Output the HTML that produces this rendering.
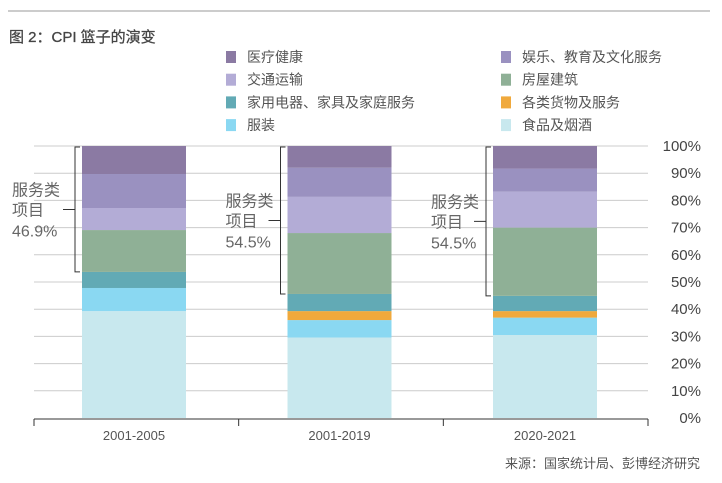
<!DOCTYPE html>
<html><head><meta charset="utf-8"><style>
body{margin:0;background:#fff;}
svg text{font-family:"Liberation Sans","Noto Sans CJK SC",sans-serif;}
</style></head><body>
<svg width="722" height="478" viewBox="0 0 722 478">
<line x1="8" y1="11" x2="710" y2="11" stroke="#999" stroke-width="1"/>
<text x="9" y="42" font-size="15" fill="#444" stroke="#444" stroke-width="0.3">图 2：CPI 篮子的演变</text>
<g id="legend"></g>
<g id="grid"></g>
<g id="bars"></g>
<g id="axis"></g>
<g id="brackets"></g>
<text x="700" y="468" font-size="13" fill="#555" text-anchor="end">来源：国家统计局、彭博经济研究</text>
</svg>
<script>
const categories=["2001-2005","2001-2019","2020-2021"];
const seriesNames=["食品及烟酒","服装","各类货物及服务","家用电器、家具及家庭服务","房屋建筑","交通运输","娱乐、教育及文化服务","医疗健康"];
const food=[39.3,29.6,30.5];
const clothing=[8.5,6.4,6.4];
const goods=[0,3.3,2.4];
const household=[5.9,6.3,5.6];
const housing=[15.4,22.4,25.1];
const transport=[8.1,13.3,13.2];
const entertainment=[12.5,10.7,8.5];
const medical=[10.3,8.0,8.3];
const serviceLabels=["46.9%","54.5%","54.5%"];
const yTicks=[0,10,20,30,40,50,60,70,80,90,100];
const colors=["#c8e8ee","#8ad8f2","#f0a93c","#62aab5","#8fb096","#b3acd6","#9a91c0","#8b7aa3"];
const series=[food,clothing,goods,household,housing,transport,entertainment,medical];
const NS="http://www.w3.org/2000/svg";
function mk(tag,attrs,parent,txt){const e=document.createElementNS(NS,tag);for(const k in attrs)e.setAttribute(k,attrs[k]);if(txt!=null)e.textContent=txt;parent.appendChild(e);return e;}
const y0=418,y1=146;
function yS(v){return y0-(y0-y1)*v/100;}
const plotL=34,plotR=648,bw=104;
function xC(i){return 134+i*205.5;}
const grid=document.getElementById('grid');
yTicks.forEach(t=>{
  if(t>0){const l=mk('line',{x1:plotL,x2:plotR,y1:yS(t),y2:yS(t),stroke:'#ccc','stroke-width':1},grid);
  
  }
  const tx=mk('text',{x:701,y:yS(t)+5,'font-size':15,fill:'#444','text-anchor':'end'},grid,t+'%');
  
  
});
const bars=document.getElementById('bars');
categories.forEach((c,i)=>{
  let acc=0;
  series.forEach((s,j)=>{
    const v=s[i];const top=yS(acc+v),bot=yS(acc);
    const r=mk('rect',{x:xC(i)-bw/2,y:top,width:bw,height:Math.max(0,bot-top),fill:colors[j]},bars);
    
    
    acc+=v;
  });
});
const axis=document.getElementById('axis');
const al=mk('line',{x1:plotL,x2:plotR,y1:y0+1,y2:y0+1,stroke:'#333','stroke-width':1},axis);


[0,1,2,3].forEach(k=>{
  const x=plotL+k*(plotR-plotL)/3;
  const t=mk('line',{x1:x,x2:x,y1:y0+1,y2:y0+8,stroke:'#333'},axis);
  
  
});
categories.forEach((c,i)=>{
  const t=mk('text',{x:xC(i),y:440,'font-size':13,fill:'#555','text-anchor':'middle'},axis,c);
  
  
});
const br=document.getElementById('brackets');
categories.forEach((c,i)=>{
  const svc=housing[i]+transport[i]+entertainment[i]+medical[i];
  const bx=xC(i)-bw/2-7,top=yS(100)+1,bot=yS(100-svc),mid=(top+bot)/2;
  const p=mk('path',{d:`M${bx+5},${top}H${bx}V${bot}H${bx+5}M${bx},${mid}H${bx-12}`,stroke:'#333',fill:'none','stroke-width':1},br);
  
  
  const lx=i===0?12:bx-55;
  [["服务类",mid-20],["项目",mid],[serviceLabels[i],mid+21]].forEach(([s,yy])=>{
    const t=mk('text',{x:lx,y:yy+6,'font-size':16,fill:'#666'},br,s);
    
    
  });
});
const lg=document.getElementById('legend');
const order=[[7,0],[6,1],[5,0],[4,1],[3,0],[2,1],[1,0],[0,1]];
order.forEach(([j,col],k)=>{
  const row=Math.floor(k/2);
  const x=col?501:226,y=57+row*22.7;
  const r=mk('rect',{x:x,y:y-6,width:10,height:12,fill:colors[j]},lg);
  
  
  const t=mk('text',{x:x+21,y:y+5,'font-size':14,fill:'#555'},lg,seriesNames[j]);
  
  
});
</script>
</body></html>
